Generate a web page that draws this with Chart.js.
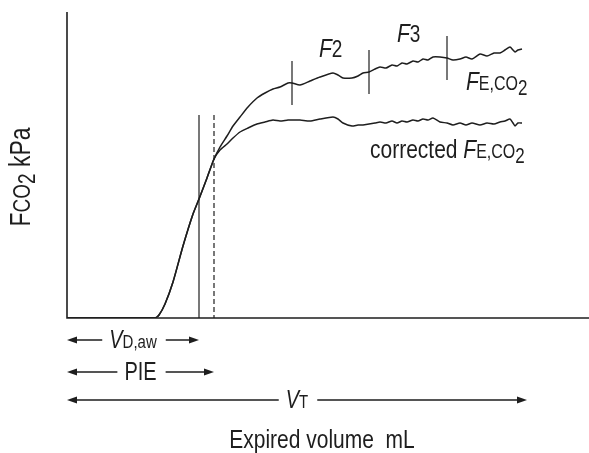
<!DOCTYPE html>
<html>
<head>
<meta charset="utf-8">
<script src="https://cdn.jsdelivr.net/npm/chart.js"></script>
<style>
  html, body { margin: 0; padding: 0; background: #fff; }
</style>
</head>
<body>
<canvas id="capno" width="589" height="453"></canvas>
<script>
// expired volume (arbitrary units along the x axis)
const volume = [0, 88, 92, 98, 106, 116, 126, 132, 140, 147, 153, 160, 166, 173, 181, 190, 198, 206, 213, 221,
  225, 233, 243, 253, 266, 271, 276, 285, 291, 296, 302, 308, 313, 319, 325, 330, 335, 340, 346, 351,
  356, 361, 366, 373, 380, 386, 393, 399, 405, 413, 420, 427, 433, 438, 443, 446, 448, 451, 455];
// measured FE,CO2
const feCO2 = [0, 0, 3, 14, 36, 72, 104, 119, 140, 159, 171, 182, 192, 201, 211, 220, 225, 229, 231, 235,
  235, 233, 237, 241, 245, 243, 240, 240, 242, 245, 246, 249, 251, 250, 253, 252, 255, 254, 257, 256,
  259, 258, 261, 261, 260, 258, 259, 261, 259, 264, 262, 265, 265, 268, 271, 268, 266, 268, 269];
// corrected FE,CO2
const feCO2Corrected = [0, 0, 3, 14, 36, 72, 104, 119, 140, 159, 168, 174, 180, 186, 190, 194, 196, 198, 197, 198,
  198, 198, 197, 199, 201, 199, 195, 192, 193, 193, 194, 195, 196, 195, 197, 195, 197, 196, 198, 197,
  199, 198, 200, 196, 195, 193, 195, 193, 195, 193, 195, 194, 196, 197, 199, 195, 192, 195, 195];

const xMax = 522;
const yMax = 306;
const phaseMarks = [225, 302, 380];   // F2 / F3 boundaries on the FE,CO2 curve
const deadSpace = 132;                // VD,aw (solid line)
const pie = 147;                      // PIE (dashed line)
const tidalVolume = 460;              // VT
const markerTop = 203;

const FONT = '"Liberation Sans", Arial, sans-serif';
const INK = '#1e1e1e';
const NARROW = 1.25; // condensed look of the original lettering

function curveAt(xs, ys, x) {
  for (let i = 1; i < xs.length; i++) {
    if (xs[i] >= x) {
      const t = (x - xs[i - 1]) / (xs[i] - xs[i - 1]);
      return ys[i - 1] + t * (ys[i] - ys[i - 1]);
    }
  }
  return ys[ys.length - 1];
}

// draw text runs {t, s, i, dy}; glyphs are drawn taller and squeezed sideways
function richText(ctx, parts, x, y, align, k) {
  k = k || NARROW;
  let w = 0;
  parts.forEach(p => {
    ctx.font = (p.i ? 'italic ' : '') + (p.s * k) + 'px ' + FONT;
    p.w = ctx.measureText(p.t).width / k;
    w += p.w;
  });
  let cx = align === 'center' ? x - w / 2 : x;
  ctx.textAlign = 'left';
  ctx.textBaseline = 'alphabetic';
  parts.forEach(p => {
    ctx.save();
    ctx.translate(cx, y + (p.dy || 0));
    ctx.scale(1 / k, 1);
    ctx.font = (p.i ? 'italic ' : '') + (p.s * k) + 'px ' + FONT;
    ctx.fillText(p.t, 0, 0);
    ctx.restore();
    cx += p.w;
  });
  return w;
}

function arrowHead(ctx, x, y, dir) {
  ctx.beginPath();
  ctx.moveTo(x, y);
  ctx.lineTo(x - dir * 10, y - 3.5);
  ctx.lineTo(x - dir * 10, y + 3.5);
  ctx.closePath();
  ctx.fill();
}

function arrowRow(ctx, x0, x1, y, parts) {
  const mid = (x0 + x1) / 2;
  const w = richText(ctx, parts, mid, y + 8, 'center');
  ctx.lineWidth = 1.4;
  ctx.beginPath();
  ctx.moveTo(x0 + 4, y); ctx.lineTo(mid - w / 2 - 7, y);
  ctx.moveTo(mid + w / 2 + 9, y); ctx.lineTo(x1 - 4, y);
  ctx.stroke();
  arrowHead(ctx, x0, y, -1);
  arrowHead(ctx, x1, y, 1);
}

const annotations = {
  id: 'annotations',
  afterDraw(chart) {
    const ctx = chart.ctx;
    const xs = chart.scales.x, ys = chart.scales.y;
    const a = chart.chartArea;
    ctx.save();
    ctx.strokeStyle = INK;
    ctx.fillStyle = INK;

    // axes
    ctx.lineWidth = 1.6;
    ctx.beginPath();
    ctx.moveTo(a.left, a.top);
    ctx.lineTo(a.left, a.bottom);
    ctx.lineTo(a.right, a.bottom);
    ctx.stroke();

    // VD,aw and PIE lines
    ctx.lineWidth = 1.2;
    ctx.beginPath();
    ctx.moveTo(xs.getPixelForValue(deadSpace), ys.getPixelForValue(markerTop));
    ctx.lineTo(xs.getPixelForValue(deadSpace), a.bottom);
    ctx.stroke();
    ctx.setLineDash([5, 3]);
    ctx.beginPath();
    ctx.moveTo(xs.getPixelForValue(pie), ys.getPixelForValue(markerTop));
    ctx.lineTo(xs.getPixelForValue(pie), a.bottom);
    ctx.stroke();
    ctx.setLineDash([]);

    // phase ticks on FE,CO2
    phaseMarks.forEach(v => {
      const px = xs.getPixelForValue(v);
      const py = ys.getPixelForValue(curveAt(volume, feCO2, v));
      ctx.beginPath();
      ctx.moveTo(px, py - 22);
      ctx.lineTo(px, py + 22);
      ctx.stroke();
    });

    // curve labels
    richText(ctx, [{ t: 'F', s: 21, i: true }, { t: '2', s: 19 }], 319, 57);
    richText(ctx, [{ t: 'F', s: 21, i: true }, { t: '3', s: 19 }], 397, 42);
    richText(ctx, [{ t: 'F', s: 21, i: true }, { t: 'E,CO', s: 16 }, { t: '2', s: 17, dy: 5 }], 466, 90);
    richText(ctx, [{ t: 'corrected ', s: 21 }, { t: 'F', s: 21, i: true }, { t: 'E,CO', s: 16 }, { t: '2', s: 17, dy: 5 }], 370, 158);

    // y axis title
    ctx.save();
    ctx.translate(30, 177);
    ctx.rotate(-Math.PI / 2);
    richText(ctx, [{ t: 'F', s: 23 }, { t: 'CO', s: 19 }, { t: '2', s: 19, dy: 5 }, { t: ' kPa', s: 23 }], 0, 0, 'center');
    ctx.restore();

    // volume arrows
    const x0 = xs.getPixelForValue(0);
    arrowRow(ctx, x0, xs.getPixelForValue(deadSpace), 340, [{ t: 'V', s: 20, i: true }, { t: 'D,aw', s: 15 }]);
    arrowRow(ctx, x0, xs.getPixelForValue(pie), 372, [{ t: 'PIE', s: 20 }]);
    arrowRow(ctx, x0, xs.getPixelForValue(tidalVolume), 400, [{ t: 'V', s: 20, i: true }, { t: 'T', s: 15 }]);

    // x axis title
    richText(ctx, [{ t: 'Expired volume  mL', s: 21 }], 322, 448, 'center');
    ctx.restore();
  }
};

new Chart(document.getElementById('capno'), {
  type: 'line',
  data: {
    datasets: [
      {
        label: 'FE,CO2',
        data: volume.map((v, i) => ({ x: v, y: feCO2[i] })),
        borderColor: INK,
        borderWidth: 1.5,
        pointRadius: 0,
        tension: 0.2,
        fill: false
      },
      {
        label: 'corrected FE,CO2',
        data: volume.map((v, i) => ({ x: v, y: feCO2Corrected[i] })),
        borderColor: INK,
        borderWidth: 1.5,
        pointRadius: 0,
        tension: 0.2,
        fill: false
      }
    ]
  },
  options: {
    responsive: false,
    animation: false,
    devicePixelRatio: 1,
    layout: { padding: { left: 67, top: 12, right: 0, bottom: 135 } },
    plugins: { legend: { display: false }, tooltip: { enabled: false } },
    scales: {
      x: { type: 'linear', min: 0, max: xMax, display: false },
      y: { type: 'linear', min: 0, max: yMax, display: false }
    }
  },
  plugins: [annotations]
});
</script>
</body>
</html>
